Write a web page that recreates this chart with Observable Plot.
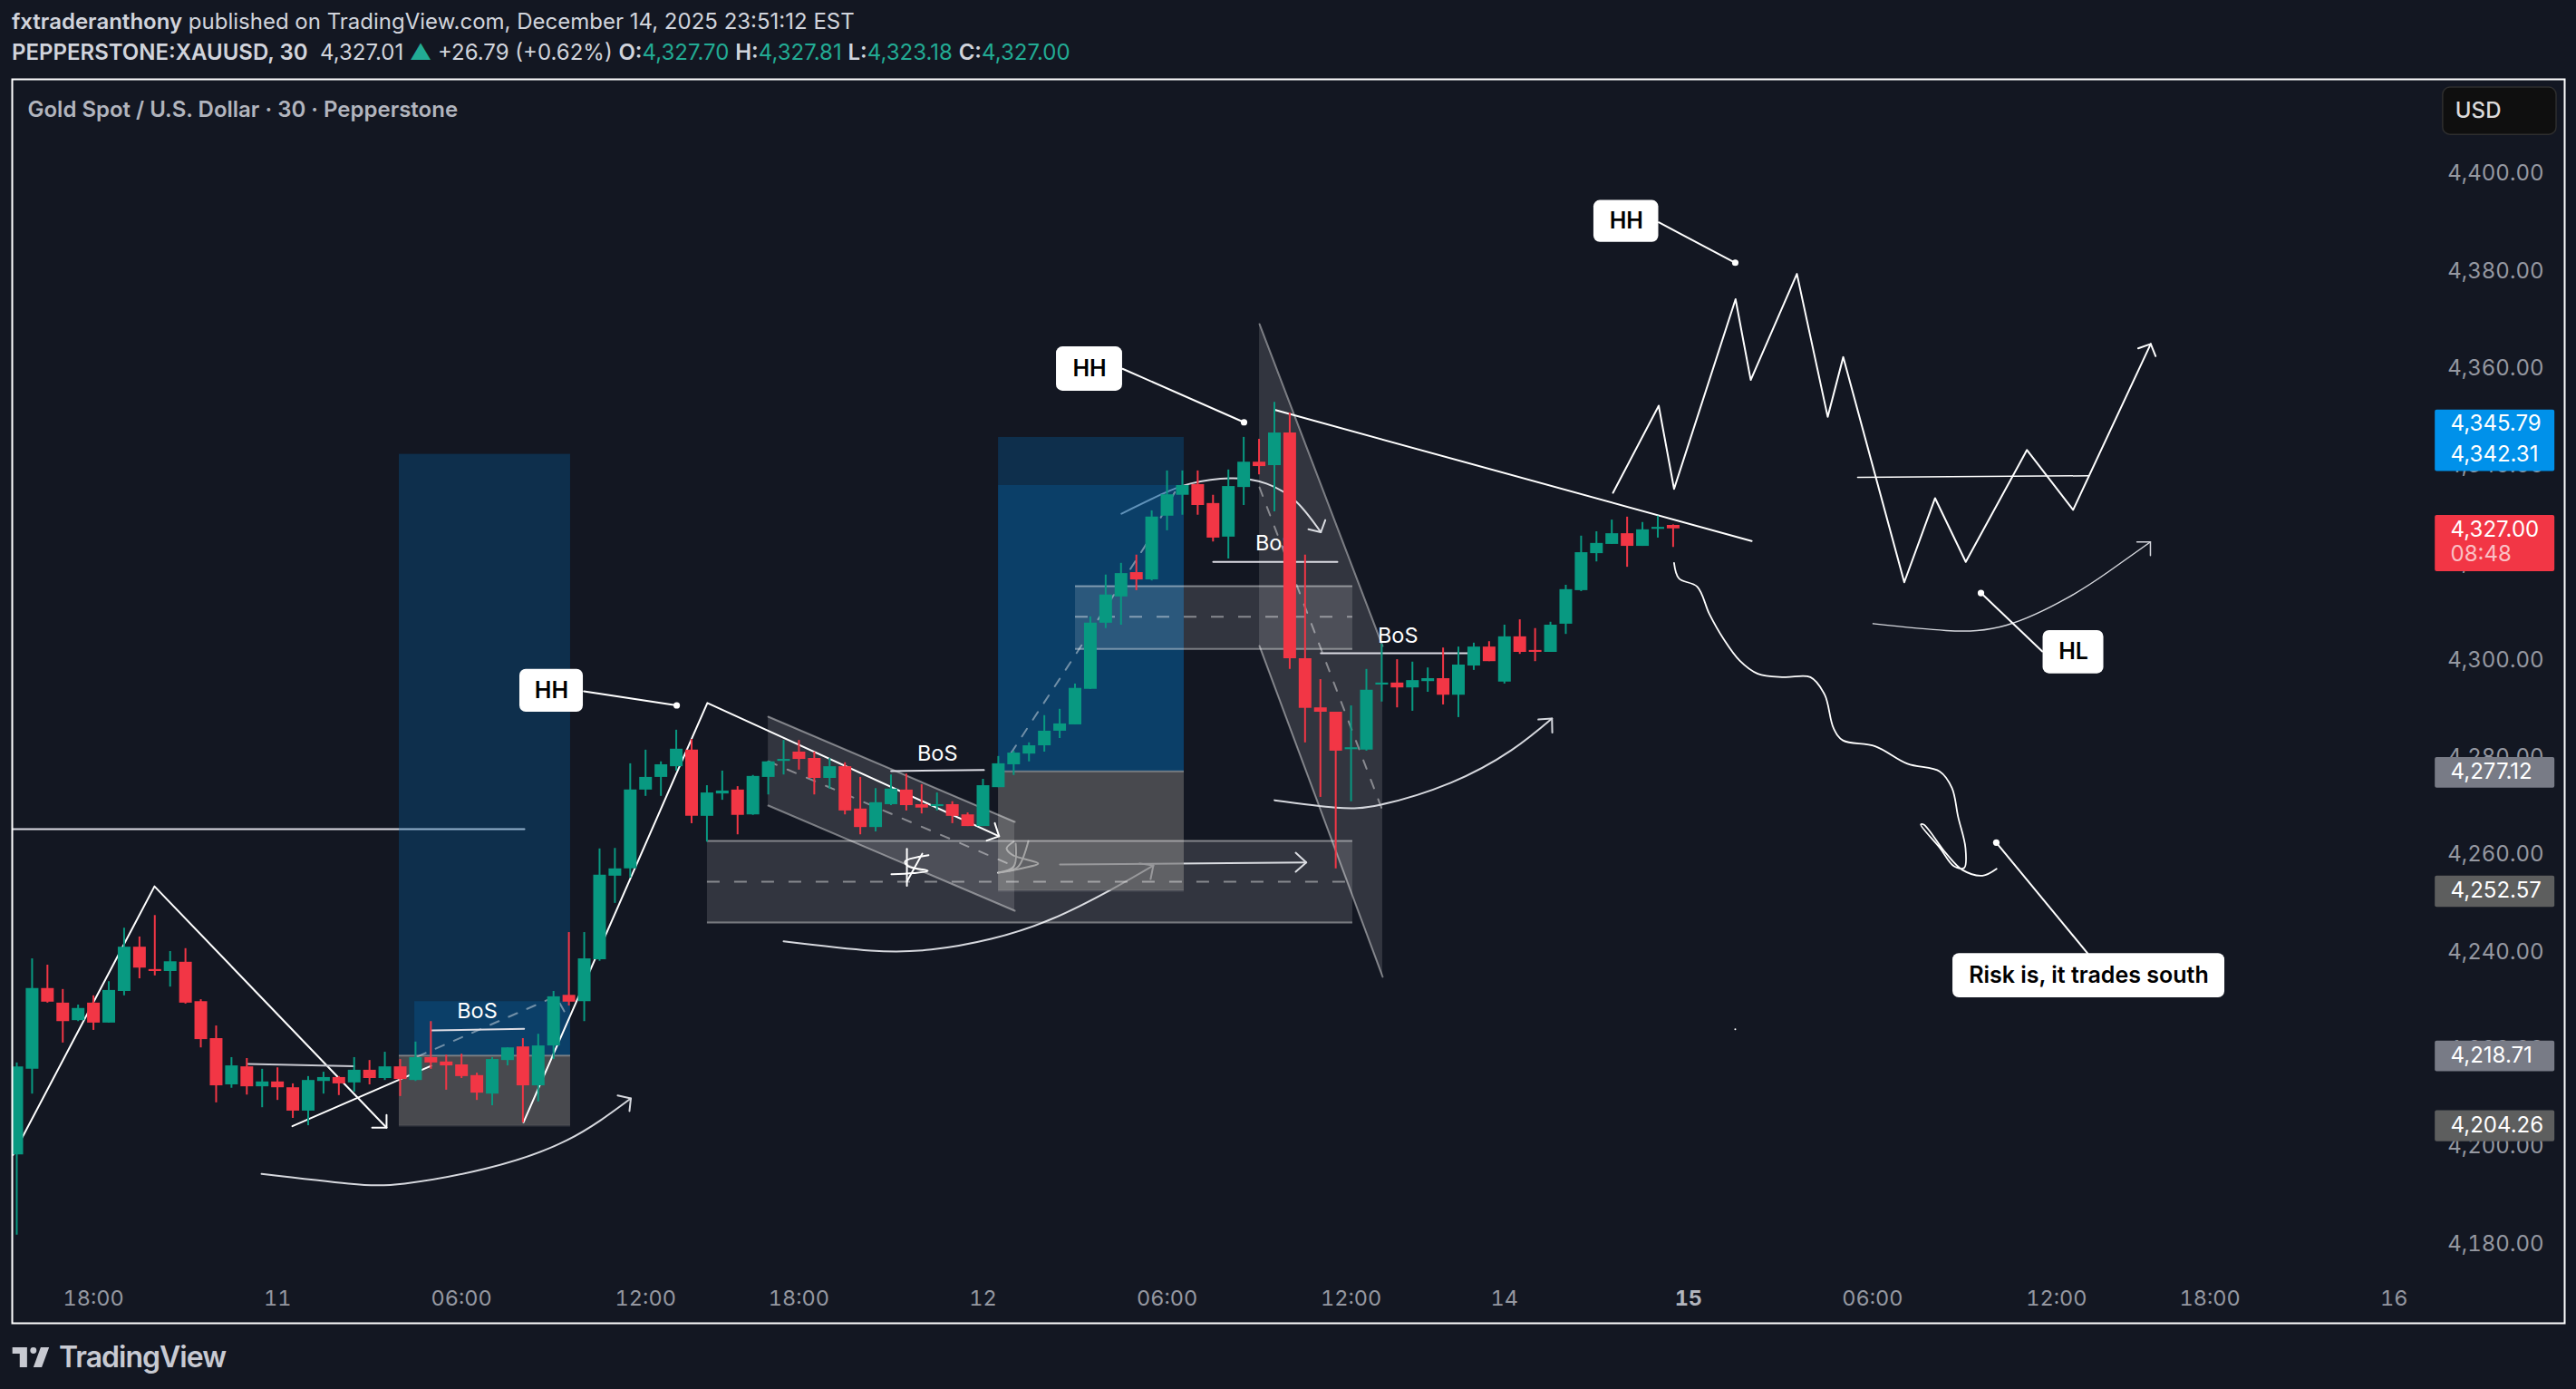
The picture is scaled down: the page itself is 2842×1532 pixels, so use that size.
<!DOCTYPE html>
<html><head><meta charset="utf-8">
<script src="https://cdn.jsdelivr.net/npm/d3@7"></script>
<script src="https://cdn.jsdelivr.net/npm/@observablehq/plot@0.6"></script>
<style>
html,body{margin:0;padding:0;background:#131722;width:2842px;height:1532px;overflow:hidden}
body{font-family:Inter,Roboto,sans-serif;color:#d1d4dc}
#head{height:86px;box-sizing:border-box;padding:7px 0 0 13px;font-size:24px;line-height:34px;white-space:nowrap}
#head b{font-weight:600}
#head .g{color:#22ab94}
#chart svg{display:block}
#foot{display:flex;align-items:center;gap:9px;padding:17px 0 0 13px;font-size:32px;font-weight:600;letter-spacing:-1px;color:#c8cad2}
</style></head><body>
<div id="head">
<div><b>fxtraderanthony</b> published on TradingView.com, December 14, 2025 23:51:12 EST</div>
<div><b>PEPPERSTONE:XAUUSD, 30</b>&nbsp; 4,327.01 <span class="g">▲</span> +26.79 (+0.62%) <b>O:</b><span class="g">4,327.70</span> <b>H:</b><span class="g">4,327.81</span> <b>L:</b><span class="g">4,323.18</span> <b>C:</b><span class="g">4,327.00</span></div>
</div>
<div id="chart"></div>
<div id="foot"><svg width="43" height="22" viewBox="0 0 36 19"><path fill="#c8cad2" d="M14 0H0v6h7v13h7V0zm14 19h-8l7-19h8l-7 19zM20 6a3 3 0 1 0 0-6 3 3 0 0 0 0 6z"/></svg><span>TradingView</span></div>
<script>
// ---- candles (30-minute bars, XAUUSD) ----
const open=[4198.3,4215.9,4232.5,4229.5,4225.9,4229.5,4225.4,4231.9,4241.0,4236.4,
4236.0,4237.9,4229.8,4222.2,4212.7,4216.4,4212.3,4213.3,4212.1,4207.3,
4213.4,4214.2,4213.1,4215.7,4214.0,4216.4,4213.6,4218.3,4217.4,4216.8,
4214.6,4210.8,4217.7,4220.5,4212.5,4220.7,4231.1,4229.8,4238.4,4255.6,
4257.1,4273.3,4275.9,4278.1,4281.5,4267.9,4272.5,4273.3,4268.2,4275.9,
4279.2,4281.1,4279.8,4275.7,4278.1,4269.4,4265.6,4270.3,4273.3,4270.3,
4269.9,4270.3,4268.2,4265.8,4273.8,4278.5,4280.7,4282.4,4285.4,4286.7,
4294.0,4307.6,4313.0,4318.0,4316.5,4329.6,4333.9,4336.1,4332.2,4325.3,
4335.5,4340.7,4340.0,4346.7,4300.3,4290.2,4289.3,4281.6,4281.5,4294.9,
4295.3,4294.3,4295.6,4296.2,4292.8,4298.8,4302.7,4295.5,4304.8,4302.0,
4301.6,4307.4,4314.3,4321.9,4323.8,4326.0,4323.4,4326.9,4327.7];
const close=[4216.4,4232.5,4229.7,4225.7,4228.4,4225.4,4232.1,4241.0,4236.7,4236.0,
4238.0,4229.5,4222.0,4212.5,4216.6,4212.3,4213.3,4212.1,4207.3,4213.6,
4214.2,4212.9,4215.7,4214.0,4216.4,4213.8,4218.3,4217.2,4216.6,4214.4,
4211.0,4217.9,4220.3,4212.5,4220.7,4230.8,4229.7,4238.6,4255.8,4257.1,
4273.3,4275.9,4278.5,4281.7,4267.9,4272.7,4273.1,4268.1,4276.1,4279.1,
4279.6,4279.6,4275.7,4278.1,4269.0,4265.6,4270.7,4273.5,4270.1,4269.6,
4270.3,4267.9,4265.8,4274.2,4278.7,4280.9,4282.4,4285.4,4286.9,4294.2,
4307.6,4313.4,4317.8,4316.5,4329.4,4334.0,4335.9,4331.8,4325.1,4335.7,
4340.7,4339.8,4346.7,4300.3,4290.1,4289.3,4281.3,4282.0,4293.8,4295.3,
4294.3,4295.8,4296.2,4292.8,4299.0,4302.7,4299.7,4304.8,4301.6,4301.6,
4307.2,4314.5,4322.1,4324.0,4326.0,4323.4,4326.8,4327.3,4327.0];
const high=[4217.2,4238.6,4237.3,4232.3,4229.1,4231.0,4233.9,4244.9,4243.1,4247.5,
4240.1,4240.7,4230.2,4224.8,4218.3,4218.1,4215.9,4216.2,4212.9,4214.4,
4215.3,4214.4,4218.3,4217.7,4219.4,4217.9,4221.5,4225.7,4218.8,4219.0,
4215.1,4218.3,4220.3,4222.2,4223.1,4231.9,4244.0,4244.0,4261.2,4261.3,
4278.7,4281.5,4279.1,4285.6,4283.7,4274.2,4277.2,4274.0,4276.3,4279.2,
4283.5,4283.5,4281.1,4279.8,4278.9,4275.9,4273.6,4276.4,4276.6,4274.4,
4272.7,4270.9,4268.6,4275.5,4280.2,4281.3,4283.0,4288.6,4289.9,4295.1,
4308.9,4317.5,4319.9,4321.6,4330.7,4338.9,4338.9,4338.9,4333.9,4339.1,
4345.8,4345.4,4353.0,4350.8,4321.6,4296.0,4289.3,4290.6,4298.1,4303.3,
4300.1,4299.6,4298.4,4302.5,4302.7,4303.5,4303.8,4307.2,4308.3,4306.5,
4307.8,4315.4,4325.5,4326.4,4328.8,4329.4,4328.3,4329.6,4327.81];
const low=[4181.8,4210.8,4229.5,4221.3,4225.7,4223.9,4225.4,4231.0,4234.5,4235.1,
4232.8,4229.3,4220.3,4209.0,4212.0,4210.6,4208.0,4209.5,4205.8,4204.3,
4210.8,4210.5,4211.2,4212.7,4213.6,4210.3,4213.4,4215.9,4211.6,4214.0,
4209.5,4208.4,4216.6,4204.9,4209.2,4217.9,4228.9,4225.7,4238.1,4250.0,
4255.2,4272.0,4272.0,4277.2,4266.4,4262.6,4271.2,4264.1,4268.1,4272.3,
4276.4,4277.4,4272.3,4273.5,4268.2,4264.1,4264.7,4270.1,4269.0,4268.4,
4269.0,4266.4,4265.8,4265.8,4273.8,4276.3,4279.1,4281.1,4283.9,4286.7,
4294.0,4306.5,4307.2,4314.3,4316.3,4326.6,4329.8,4329.8,4324.3,4320.8,
4331.8,4338.1,4330.5,4298.1,4283.0,4271.8,4257.1,4270.9,4281.3,4291.4,
4290.2,4289.5,4293.4,4290.8,4288.2,4297.9,4299.7,4295.1,4301.2,4299.7,
4301.6,4305.3,4314.1,4320.2,4323.8,4319.1,4323.4,4325.1,4323.18];
// ---- axes ----
const xTicks=[5,17,29,41,51,63,75,87,97,121,133,143,155];
const xLabels=["18:00","11","06:00","12:00","18:00","12","06:00","12:00","14","06:00","12:00","18:00","16"];
const xBoldTick=[109], xBoldLabel="15";
const yTicks=[4180,4200,4220,4240,4260,4280,4300,4320,4340,4360,4380,4400];
// ---- drawings: [bar index, price] ----
const zigA=[[-0.24,4198.3],[8.98,4253.5],[24.11,4203.9]];
const zigAHead=[[23.17,4203.9],[24.11,4203.9],[24.11,4206.5]];
const lineA=[[17.97,4204.2],[27.01,4216.6]];
const zigB=[[33.04,4205.0],[45.03,4291.2],[64.05,4263.8]];
const zigBHead=[[63.77,4266.5],[64.05,4263.8],[63.24,4262.9]];
const levelA=[[15.07,4217.0],[21.99,4216.5]];
const levelTop=[[-0.24,4265.26],[33.1,4265.26]];
const bosLines=[[[27.07,4223.9],[33.08,4224.2]],[[57.01,4277.2],[63.06,4277.4]],[[78.01,4320.2],[86.11,4320.2]],[[85.03,4301.4],[94.68,4301.4]]];
const bosText=[[30.02,4227.8],[60.03,4280.8],[82.07,4324.0],[90.05,4305.0]];
const arc1=[[15.96,4194.4],[21.63,4192.4],[25.29,4192.4],[30.61,4195.5],[35.87,4201.3],[40.04,4209.9]];
const arc1Head=[[39.18,4210.5],[40.04,4209.9],[39.95,4207.3]];
const arc2=[[50.0,4242.2],[55.67,4240.3],[59.63,4240.5],[63.53,4242.7],[67.49,4246.8],[71.45,4253.0],[74.11,4257.8]];
const arc2Head=[[73.22,4258.2],[74.11,4257.8],[73.93,4255.0]];
const arrowH=[[68.02,4258.0],[84.08,4258.4]];
const arrowHHead=[[83.39,4260.4],[84.08,4258.4],[83.39,4256.5]];
const scrA1=[[59.45,4259.9],[57.92,4258.6],[58.15,4257.6],[59.4,4256.7],[58.45,4256.2],[57.03,4256.0]];
const scrA2=[[59.04,4260.2],[58.04,4254.5]];
const scrA3=[[58.04,4261.2],[58.04,4253.6]];
const scrB1=[[65.01,4262.7],[64.54,4261.3],[64.95,4259.9],[66.6,4258.2],[65.54,4257.2],[64.0,4256.3]];
const scrB2=[[65.96,4262.8],[65.31,4257.6],[64.7,4256.7]];
const scrB3=[[65.13,4262.3],[65.01,4257.6],[64.0,4256.3]];
const arc3=[[72.03,4330.1],[74.58,4334.0],[76.53,4336.3],[79.12,4337.4],[81.48,4336.3],[83.45,4332.5],[85.03,4326.3]];
const arc3Head=[[84.22,4326.9],[85.03,4326.3],[85.32,4328.8]];
const arc5=[[82.01,4271.2],[85.99,4269.7],[88.95,4270.3],[93.5,4274.8],[97.46,4281.5],[100.1,4288.0]];
const arc5Head=[[99.21,4287.8],[100.1,4288.0],[100.12,4285.1]];
const trend=[[82.07,4351.4],[113.12,4324.5]];
const proj=[[104.08,4334.4],[107.06,4352.3],[108.06,4335.2],[112.07,4374.2],[113.06,4357.6],[116.07,4379.4],[118.08,4350.0],[119.09,4362.3],[123.07,4316.0],[125.08,4333.3],[127.08,4320.2],[131.07,4343.2],[134.08,4330.9],[139.14,4365.0]];
const projHead=[[138.32,4364.1],[139.14,4365.0],[139.46,4362.5]];
const projLevel=[[120.03,4337.6],[135.1,4337.9]];
const arc4=[[121.04,4307.5],[125.79,4306.1],[129.75,4307.2],[133.71,4312.8],[136.35,4318.1],[139.12,4324.3]];
const arc4Head=[[138.24,4324.3],[139.12,4324.3],[139.12,4321.5]];
const squiggle=[[108.06,4320.0],[108.38,4316.8],[109.57,4315.1],[110.36,4309.5],[111.28,4304.4],[112.34,4299.9],[113.52,4297.2],[115.24,4296.5],[116.95,4296.5],[117.88,4292.9],[118.46,4286.0],[119.07,4283.5],[121.17,4282.3],[123.28,4278.7],[125.39,4277.1],[126.18,4273.7],[126.58,4267.8],[127.06,4261.4],[126.98,4257.3],[126.32,4257.6],[125.39,4261.4],[124.15,4266.2],[124.34,4266.2],[125.79,4260.3],[126.85,4256.9],[128.17,4255.7],[129.09,4257.1]];
const dashA=[[26.12,4218.5],[35.16,4230.9],[35.7,4227.8]];
const dashB=[[64.83,4280.9],[69.09,4301.4],[73.52,4323.2],[75.59,4335.0]];
// zones [x1,x2,top,bottom]
const blueZones=[[24.94,36.11,4342.31,4218.71],[25.95,36.11,4229.8,4218.71],[64.01,76.12,4345.79,4277.12],[64.01,76.12,4335.9,4277.12]];
const greyZones=[[24.94,36.11,4218.71,4204.26],[64.01,76.12,4277.12,4252.57]];
const rangeZones=[[45.03,87.11,4262.84,4246.06,4254.45],[69.03,87.11,4315.2,4302.3,4308.9]];
const channels=[
 {x:[49.0,65.07],top:[4288.37,4266.75],bot:[4270.1,4248.48],mid:[4279.2,4257.6]},
 {x:[81.03,89.06],top:[4369.08,4302.9],bot:[4302.9,4234.9],mid:[4335.5,4269.0]}];
// callouts
const callouts=[
 {t:"HH",x1:32.8,x2:36.94,y1:4298.1,y2:4289.3,cx:34.87,cy:4293.7,l:[[36.98,4293.6],[43.03,4290.7]]},
 {t:"HH",x1:67.79,x2:72.1,y1:4364.4,y2:4355.3,cx:69.95,cy:4359.9,l:[[72.1,4359.9],[80.02,4348.9]]},
 {t:"HH",x1:102.83,x2:107.06,y1:4394.5,y2:4385.9,cx:104.95,cy:4390.2,l:[[107.06,4390.0],[112.05,4381.7]]},
 {t:"HL",x1:132.12,x2:136.08,y1:4306.1,y2:4297.2,cx:134.1,cy:4301.7,l:[[132.07,4301.8],[128.07,4313.8]]},
 {t:"Risk is, it trades south",x1:126.24,x2:143.97,y1:4239.7,y2:4230.6,cx:135.1,cy:4235.1,l:[[135.03,4239.7],[129.07,4262.5]]}];
const tinyDot=[[112.05,4224.1]];
// price tags on the scale
const tagX=[157.69,165.49], tagTextX=158.69;
const tags=[
 {y1:4351.4,y2:4338.8,c:"#0091ea"},{y1:4329.75,y2:4318.2,c:"#f23645"},
 {y1:4280.0,y2:4273.7,c:"#787b86"},{y1:4255.6,y2:4249.2,c:"#5d5e5e"},
 {y1:4221.7,y2:4215.4,c:"#787b86"},{y1:4207.4,y2:4201.0,c:"#5d5e5e"}];
const tagTexts=[["4,345.79",4348.6],["4,342.31",4342.31],["4,327.00",4326.8],["4,277.12",4277.12],["4,252.57",4252.57],["4,218.71",4218.71],["4,204.26",4204.26]];
const countdown=[["08:48",4321.7]];

const bars=open.map((o,i)=>({i,o,c:close[i],h:high[i],l:low[i]}));
const up=d=>d.c>=d.o, GREEN="#089981", RED="#f23645";
const P=d=>d[0], V=d=>d[1];
const L=(pts,o={})=>Plot.line(pts,{x:P,y:V,stroke:"#fff",strokeWidth:2,...o});
const arcO={stroke:"#d6d8de",curve:"natural"};
const chan=channels.map(c=>c.x.map((x,j)=>({x,top:c.top[j],bot:c.bot[j],mid:c.mid[j]})));
const EDGE="rgba(255,255,255,0.42)", DASH="rgba(255,255,255,0.42)";
const font="Inter, Roboto, sans-serif";

const chart=Plot.plot({
 width:2842,height:1374,marginLeft:13,marginRight:13,marginTop:1,marginBottom:1,
 style:{background:"transparent",fontFamily:font,overflow:"visible"},
 x:{type:"linear",domain:[-0.295,166.13],axis:null},
 y:{type:"linear",domain:[4163.68,4419.4],axis:null},
 marks:[
  L(levelTop,{stroke:"#dcdce4"}),
  L(arc2,arcO),L(arc2Head,{stroke:"#d6d8de"}),
  L(arrowH,{stroke:"#d6d8de"}),L(arrowHHead,{stroke:"#d6d8de"}),
  L(scrB1,{curve:"catmull-rom"}),L(scrB2,{curve:"catmull-rom"}),L(scrB3,{curve:"catmull-rom"}),
  L(arc3,arcO),L(arc3Head,{stroke:"#d6d8de"}),
  // position tools
  Plot.rect(blueZones,{x1:d=>d[0],x2:d=>d[1],y1:d=>d[2],y2:d=>d[3],fill:"rgb(7,93,159)",fillOpacity:0.343}),
  Plot.rect(greyZones,{x1:d=>d[0],x2:d=>d[1],y1:d=>d[2],y2:d=>d[3],fill:"rgb(98,98,100)",fillOpacity:0.67}),
  Plot.ruleY(greyZones,{x1:d=>d[0],x2:d=>d[1],y:d=>d[2],stroke:"rgba(255,255,255,0.3)",strokeWidth:2}),
  Plot.ruleY(greyZones,{x1:d=>d[0],x2:d=>d[1],y:d=>d[3],stroke:"rgba(255,255,255,0.1)",strokeWidth:2}),
  L(dashA,{stroke:DASH,strokeDasharray:"10 12"}),L(dashB,{stroke:DASH,strokeDasharray:"10 12"}),
  // ranges
  Plot.rect(rangeZones,{x1:d=>d[0],x2:d=>d[1],y1:d=>d[2],y2:d=>d[3],fill:"#fff",fillOpacity:0.135}),
  Plot.ruleY(rangeZones,{x1:d=>d[0],x2:d=>d[1],y:d=>d[2],stroke:EDGE,strokeWidth:2}),
  Plot.ruleY(rangeZones,{x1:d=>d[0],x2:d=>d[1],y:d=>d[3],stroke:EDGE,strokeWidth:2}),
  Plot.ruleY(rangeZones,{x1:d=>d[0],x2:d=>d[1],y:d=>d[4],stroke:DASH,strokeWidth:2,strokeDasharray:"14 16"}),
  // channels
  ...chan.flatMap(c=>[
    Plot.areaY(c,{x:"x",y1:"bot",y2:"top",fill:"#fff",fillOpacity:0.135}),
    Plot.line(c,{x:"x",y:"top",stroke:EDGE,strokeWidth:2}),
    Plot.line(c,{x:"x",y:"bot",stroke:EDGE,strokeWidth:2}),
    Plot.line(c,{x:"x",y:"mid",stroke:DASH,strokeWidth:2,strokeDasharray:"10 13"})]),
  // freehand & straight drawings
  L(zigA),L(zigAHead),L(lineA),L(zigB),L(zigBHead),L(levelA,{stroke:"#c9cad2"}),
  L(arc1,arcO),L(arc1Head,{stroke:"#d6d8de"}),
  L(arc5,arcO),L(arc5Head,{stroke:"#d6d8de"}),
  ...bosLines.map(b=>L(b,{stroke:"#dcdce4"})),
  Plot.text(bosText,{x:P,y:V,text:()=>"BoS",fill:"#fff",fontSize:23.5}),
  L(scrA1,{curve:"catmull-rom"}),L(scrA2),L(scrA3),
  L(trend),L(proj),L(projHead),L(projLevel,{strokeWidth:1.5}),
  L(arc4,{...arcO,strokeWidth:1.5}),L(arc4Head,{stroke:"#d6d8de",strokeWidth:1.5}),
  L(squiggle,{curve:"catmull-rom",strokeWidth:1.8}),
  // candles
  Plot.ruleX(bars,{x:"i",y1:"l",y2:"h",stroke:d=>up(d)?GREEN:RED,strokeWidth:2,clip:true}),
  Plot.ruleX(bars,{x:"i",y1:"o",y2:"c",stroke:d=>up(d)?GREEN:RED,strokeWidth:14,clip:true}),
  // callouts
  ...callouts.flatMap(c=>[
    L(c.l),
    Plot.dot([c.l[1]],{x:P,y:V,r:3.6,fill:"#fff"}),
    Plot.rect([c],{x1:"x1",x2:"x2",y1:"y1",y2:"y2",fill:"#fff",rx:7}),
    Plot.text([c],{x:"cx",y:"cy",text:"t",fill:"#000",fontSize:25,fontWeight:600})]),
  Plot.dot(tinyDot,{x:P,y:V,r:1,fill:"#fff"}),
  // title + currency button
  Plot.text([[0.71,4413.1]],{x:P,y:V,text:()=>"Gold Spot / U.S. Dollar · 30 · Pepperstone",textAnchor:"start",fill:"#b2b5be",fontSize:24,fontWeight:600}),
  Plot.rect([0],{x1:158.2,x2:165.6,y1:4417.7,y2:4408.0,fill:"#0f0f0f",stroke:"#2e2e2e",strokeWidth:1.5,rx:8}),
  Plot.text([[159.0,4412.9]],{x:P,y:V,text:()=>"USD",textAnchor:"start",fill:"#dbdbdb",fontSize:24,fontWeight:500}),
  // axes
  Plot.axisY(yTicks,{anchor:"right",tickSize:0,tickPadding:-23,textAnchor:"end",tickFormat:d=>d3.format(",.2f")(d),fill:"#9598a1",fontSize:24}),
  Plot.axisX(xTicks,{anchor:"bottom",tickSize:0,tickPadding:-27,lineAnchor:"middle",tickFormat:d=>xLabels[xTicks.indexOf(d)],fill:"#9598a1",fontSize:23.5}),
  Plot.axisX(xBoldTick,{anchor:"bottom",tickSize:0,tickPadding:-27,lineAnchor:"middle",tickFormat:()=>xBoldLabel,fill:"#b2b5be",fontSize:23.5,fontWeight:700}),
  // tags
  Plot.rect(tags,{x1:tagX[0],x2:tagX[1],y1:"y1",y2:"y2",fill:"c",rx:2}),
  Plot.text(tagTexts,{x:tagTextX,y:V,text:P,textAnchor:"start",fill:"#fff",fontSize:24}),
  Plot.text(countdown,{x:tagTextX,y:V,text:P,textAnchor:"start",fill:"rgba(255,255,255,0.7)",fontSize:24}),
  Plot.frame({stroke:"#fff",strokeWidth:2})
 ]
});
document.getElementById("chart").append(chart);
</script>
</body></html>
